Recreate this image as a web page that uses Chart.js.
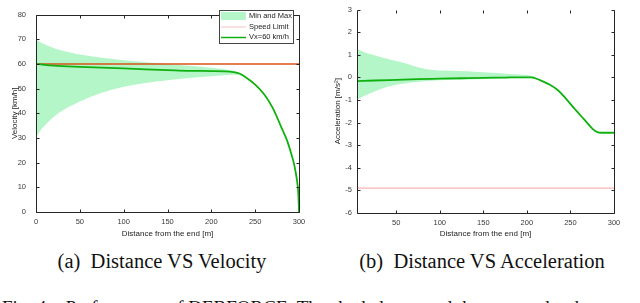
<!DOCTYPE html>
<html>
<head>
<meta charset="utf-8">
<script src="https://cdn.jsdelivr.net/npm/chart.js@4.4.1/dist/chart.umd.min.js"></script>
<style>
  html, body { margin: 0; padding: 0; background: #fff; width: 640px; height: 303px; overflow: hidden; }
  .wrap { position: absolute; top: 0; width: 320px; height: 245px; }
  .cap { position: absolute; font-family: "Liberation Serif", "Times New Roman", serif; font-size: 20.5px; color: #111; white-space: pre; transform: translateX(-50%); }
  .fig { position: absolute; left: 2px; top: 297px; font-family: "Liberation Serif", "Times New Roman", serif; font-size: 19px; color: #111; white-space: pre; }
</style>
</head>
<body>
<div class="wrap" style="left:0"><canvas id="c1" width="320" height="245"></canvas></div>
<div class="wrap" style="left:320px"><canvas id="c2" width="320" height="245"></canvas></div>
<div class="cap" style="left:162px; top:250px">(a)  Distance VS Velocity</div>
<div class="cap" style="left:482px; top:250px">(b)  Distance VS Acceleration</div>
<div class="fig">Fig. 4:   Performance of DEBFORCE. The shaded area and the area under the</div>
<script>
// ---------- Data: Distance VS Velocity ----------
const velBandX     = [0, 5, 10, 20, 30, 40, 50, 75, 100, 125, 150, 175, 200, 215, 225, 232, 240];
const velBandUpper = [70, 68.8, 67.8, 66.4, 65.3, 64.5, 63.8, 62.5, 61.5, 60.7, 60.0, 59.2, 58.4, 57.8, 57.2, 56.4, 54.5];
const velBandLower = [30, 33, 35, 38.5, 41, 43, 44.8, 48.3, 50.7, 52.3, 53.4, 54.3, 55.0, 55.4, 55.6, 55.5, 54.1];
const velMeanX     = [0, 10, 20, 30, 50, 75, 100, 125, 150, 175, 200, 215, 225, 232, 240, 250, 260, 270, 280, 285, 288, 291, 294, 296, 298, 299.3, 300];
const velMeanY     = [60, 59.6, 59.3, 59.1, 58.8, 58.5, 58.2, 57.8, 57.5, 57.2, 57.1, 57.0, 56.7, 56.1, 54.4, 51.6, 47.8, 42.2, 34.2, 30.2, 27.3, 23.8, 20, 16.5, 12, 7, 0];
const speedLimitX  = [0, 300];
const speedLimitY  = [60, 60];
const velYTicks    = [0, 10, 20, 30, 40, 50, 60, 70, 80];
const velXTicks    = [0, 50, 100, 150, 200, 250, 300];

// ---------- Data: Distance VS Acceleration ----------
const accBandX     = [5, 10, 20, 30, 40, 50, 60, 70, 80, 90, 100, 130, 160, 180, 200, 210];
const accBandUpper = [1.25, 1.17, 1.03, 0.92, 0.82, 0.72, 0.62, 0.5, 0.4, 0.33, 0.3, 0.27, 0.2, 0.15, 0.1, 0.04];
const accBandLower = [-1.0, -0.88, -0.7, -0.55, -0.42, -0.33, -0.27, -0.22, -0.18, -0.15, -0.13, -0.1, -0.06, -0.04, -0.02, 0];
const accMeanX     = [5, 25, 50, 75, 100, 125, 150, 175, 190, 205, 215, 225, 235, 245, 255, 262, 270, 276, 281, 285, 300];
const accMeanY     = [-0.17, -0.14, -0.11, -0.08, -0.06, -0.04, -0.02, -0.01, 0, 0, -0.12, -0.3, -0.55, -0.95, -1.4, -1.7, -2.05, -2.3, -2.42, -2.45, -2.45];
const comfortX     = [5, 300];
const comfortY     = [-4.9, -4.9];
const accYTicks    = [-6, -5, -4, -3, -2, -1, 0, 1, 2, 3];
const accXTicks    = [50, 100, 150, 200, 250, 300];

const pts = (xs, ys) => xs.map((x, i) => ({ x: x, y: ys[i] }));

const AXIS = '#262626';
const TXT = '#3a3a3a';
const BAND = '#b4f6c8';
const GREEN = '#10b010';
const SANS = '"Liberation Sans", Arial, Helvetica, sans-serif';

// frame + inward ticks (MATLAB-like box)
const framePlugin = {
  id: 'frame',
  afterDatasetsDraw(chart, args, opts) {
    const { ctx, chartArea: a, scales } = chart;
    ctx.save();
    ctx.strokeStyle = AXIS;
    ctx.lineWidth = 1;
    ctx.beginPath();
    const L = Math.round(a.left) + 0.5, R = Math.round(a.right) + 0.5, T = Math.round(a.top) + 0.5, B = Math.round(a.bottom) + 0.5;
    ctx.moveTo(L, T); ctx.lineTo(L, B); ctx.lineTo(R, B); ctx.lineTo(R, T);
    if (opts.top !== false) ctx.lineTo(L, T);
    const tl = 3;
    scales.x.ticks.forEach(t => {
      const px = Math.round(scales.x.getPixelForValue(t.value)) + 0.5;
      ctx.moveTo(px, B); ctx.lineTo(px, B - tl);
      ctx.moveTo(px, T); ctx.lineTo(px, T + tl);
    });
    scales.y.ticks.forEach(t => {
      const py = Math.round(scales.y.getPixelForValue(t.value)) + 0.5;
      ctx.moveTo(L, py); ctx.lineTo(L + tl, py);
      ctx.moveTo(R, py); ctx.lineTo(R - tl, py);
    });
    ctx.stroke();
    ctx.restore();
  }
};

// boxed legend inside the plot
const boxLegendPlugin = {
  id: 'boxLegend',
  afterDraw(chart, args, o) {
    if (!o || !o.items) return;
    const ctx = chart.ctx;
    ctx.save();
    ctx.fillStyle = '#fff';
    ctx.fillRect(o.x, o.y, o.w, o.h);
    ctx.strokeStyle = '#444';
    ctx.lineWidth = 1;
    ctx.strokeRect(o.x + 0.5, o.y + 0.5, o.w, o.h);
    ctx.font = '7.5px ' + SANS;
    ctx.textBaseline = 'middle';
    o.items.forEach((it, i) => {
      const ds = chart.data.datasets[it.ds];
      const cy = o.y + o.rowTop + i * o.rowGap;
      const sx = o.x + 2, sw = o.swatchW;
      if (it.kind === 'fill') {
        ctx.fillStyle = it.color || ds.backgroundColor;
        ctx.fillRect(sx, cy - 4, sw, 8);
      } else {
        ctx.strokeStyle = it.color || ds.borderColor;
        ctx.lineWidth = it.width || ds.borderWidth;
        ctx.beginPath(); ctx.moveTo(sx, cy + 0.5); ctx.lineTo(sx + sw, cy + 0.5); ctx.stroke();
      }
      ctx.fillStyle = '#222';
      ctx.fillText(ds.label, sx + sw + 3, cy);
    });
    ctx.restore();
  }
};

function makeChart(id, cfg) {
  return new Chart(document.getElementById(id), {
    type: 'line',
    data: { datasets: cfg.datasets },
    options: {
      responsive: false,
      animation: false,
      events: [],
      layout: { padding: cfg.padding },
      elements: { point: { radius: 0 }, line: { cubicInterpolationMode: 'monotone' } },
      plugins: {
        legend: { display: false },
        tooltip: { enabled: false },
        frame: { top: cfg.frameTop },
        boxLegend: cfg.legend
      },
      scales: {
        x: {
          type: 'linear', min: cfg.xMin, max: cfg.xMax,
          grid: { display: false, drawTicks: false },
          border: { display: false },
          afterBuildTicks: s => { s.ticks = cfg.xTicks.map(v => ({ value: v })); },
          afterFit: s => { s.height = cfg.xHeight; },
          ticks: { color: TXT, font: { family: SANS, size: 7.5 }, padding: 5, maxRotation: 0, autoSkip: false },
          title: { display: true, text: 'Distance from the end [m]', color: '#222', font: { family: SANS, size: 8 }, padding: { top: 2, bottom: 6 } }
        },
        y: {
          type: 'linear', min: cfg.yMin, max: cfg.yMax,
          grid: { display: false, drawTicks: false },
          border: { display: false },
          afterBuildTicks: s => { s.ticks = cfg.yTicks.map(v => ({ value: v })); },
          afterFit: s => { s.width = cfg.yWidth; },
          ticks: { color: TXT, font: { family: SANS, size: 7.5 }, padding: cfg.yPad, autoSkip: false },
          title: { display: true, text: cfg.yTitle, color: '#222', font: { family: SANS, size: 8 }, padding: cfg.yTitlePad }
        }
      }
    },
    plugins: [framePlugin, boxLegendPlugin]
  });
}

makeChart('c1', {
  datasets: [
    { label: 'Min and Max', data: pts(velBandX, velBandUpper), borderWidth: 0, borderColor: 'rgba(0,0,0,0)', backgroundColor: BAND, fill: '+1', order: 10 },
    { label: '', data: pts(velBandX, velBandLower), borderWidth: 0, borderColor: 'rgba(0,0,0,0)', fill: false, order: 10 },
    { label: 'Speed Limit', data: pts(speedLimitX, speedLimitY), borderColor: '#d95319', borderWidth: 1.5, fill: false, order: 1 },
    { label: 'Vx=60 km/h', data: pts(velMeanX, velMeanY), borderColor: GREEN, borderWidth: 1.8, fill: false, order: 0 }
  ],
  padding: { top: 4, right: 21, left: 0, bottom: 0 },
  frameTop: true,
  xMin: 0, xMax: 300, xTicks: velXTicks, xHeight: 33,
  yMin: 0, yMax: 80, yTicks: velYTicks, yWidth: 36, yPad: 10,
  yTitle: 'Velocity [km/h]', yTitlePad: { top: 10, bottom: 0 },
  legend: { x: 219, y: 10, w: 74, h: 33, rowTop: 6, rowGap: 10.5, swatchW: 25,
    items: [ { ds: 0, kind: 'fill' }, { ds: 2, kind: 'line', color: '#f6c4c4', width: 1 }, { ds: 3, kind: 'line', width: 1.5 } ] }
});

makeChart('c2', {
  datasets: [
    { label: 'Min and Max', data: pts(accBandX, accBandUpper), borderWidth: 0, borderColor: 'rgba(0,0,0,0)', backgroundColor: BAND, fill: '+1', order: 10 },
    { label: '', data: pts(accBandX, accBandLower), borderWidth: 0, borderColor: 'rgba(0,0,0,0)', fill: false, order: 10 },
    { label: 'Vx=60 km/h', data: pts(accMeanX, accMeanY), borderColor: GREEN, borderWidth: 1.8, fill: false, order: 0 },
    { label: 'Comfort limit', data: pts(comfortX, comfortY), borderColor: '#ffb4b4', borderWidth: 1.2, fill: false, order: 1 }
  ],
  padding: { top: 8, right: 26, left: 0, bottom: 0 },
  frameTop: false,
  xMin: 5, xMax: 300, xTicks: accXTicks, xHeight: 32,
  yMin: -6, yMax: 3, yTicks: accYTicks, yWidth: 37, yPad: 5,
  yTitle: 'Acceleration [m/s\u00B2]', yTitlePad: { top: 13, bottom: 0 },
  legend: { x: 536, y: 15, w: 71, h: 32, rowTop: 7, rowGap: 10, swatchW: 24,
    items: [ { ds: 0, kind: 'fill' }, { ds: 2, kind: 'line', width: 1.5 }, { ds: 3, kind: 'line', color: '#e02020', width: 1 } ] }
});
</script>
</body>
</html>
